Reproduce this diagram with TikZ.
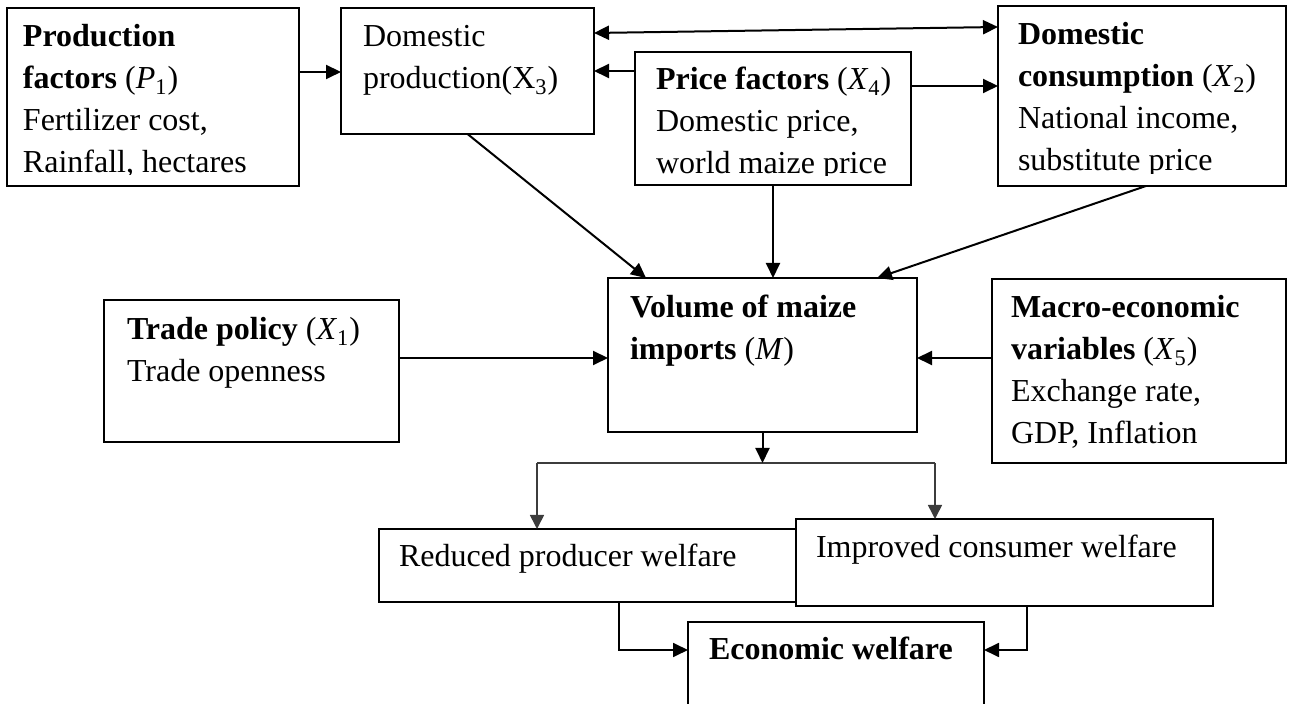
\documentclass[tikz,border=0pt]{standalone}
\usepackage{fontspec}
\setmainfont{Liberation Serif}
\usetikzlibrary{arrows.meta,calc}
\definecolor{branchgray}{HTML}{3C3C3C}
\tikzset{
  mybox/.style={draw=black, line width=0.6pt, fill=white, inner sep=0pt, outer sep=0pt, anchor=north west},
  mytxt/.style={inner sep=0pt, outer sep=0pt, anchor=base west, font=\fontsize{16pt}{21pt}\selectfont},
  myarr/.style={draw=black, line width=1pt, -{Triangle[length=7.5pt,width=7pt]}},
  mydbl/.style={draw=black, line width=1pt, {Triangle[length=7.5pt,width=7pt]}-{Triangle[length=7.5pt,width=7pt]}},
  gline/.style={draw=branchgray, line width=0.8pt},
  garr/.style={draw=branchgray, line width=0.8pt, -{Triangle[length=7pt,width=7pt]}, fill=branchgray},
}
\newcommand{\lines}[2]{\parbox[t]{#1}{\raggedright #2}}
\begin{document}
\begin{tikzpicture}[x=0.5pt,y=-0.5pt]
\clip (0,0) rectangle (1297,704);
\useasboundingbox (0,0) rectangle (1297,704);

% boxes
\node[mybox, minimum width=146pt, minimum height=89pt] (prod) at (7,8) {};
\node[mybox, minimum width=126.5pt, minimum height=63pt] (dom) at (341,8) {};
\node[mybox, minimum width=138pt, minimum height=66.5pt] (price) at (635,52) {};
\node[mybox, minimum width=144pt, minimum height=90pt] (cons) at (998,6) {};
\node[mybox, minimum width=147.5pt, minimum height=71pt] (trade) at (104,300) {};
\node[mybox, minimum width=154.5pt, minimum height=77pt] (vol) at (608,278) {};
\node[mybox, minimum width=147pt, minimum height=92pt] (macro) at (992,279) {};
\node[mybox, minimum width=208.5pt, minimum height=36.5pt] (red) at (379,529) {};
\node[mybox, minimum width=208.5pt, minimum height=43.5pt] (imp) at (796,519) {};
\node[mybox, minimum width=148pt, minimum height=50pt] (eco) at (688,622) {};

% texts
\begin{scope}
\clip (7,8) rectangle (299,175);
\node[mytxt] (prodT) at (23,47) {\lines{140pt}{\textbf{Production}\\\textbf{factors} (\textit{P}\textsubscript{1})\\Fertilizer cost,\\Rainfall, hectares}};
\end{scope}
\node[mytxt] (domT) at (363,47) {\lines{120pt}{Domestic\\production(X\textsubscript{3})}};
\begin{scope}
\clip (635,52) rectangle (911,176);
\node[mytxt] (priceT) at (656,90) {\lines{130pt}{\textbf{Price factors} (\textit{X}\textsubscript{4})\\Domestic price,\\world maize price}};
\end{scope}
\begin{scope}
\clip (998,6) rectangle (1286,174);
\node[mytxt] (consT) at (1018,45) {\lines{134pt}{\textbf{Domestic}\\\textbf{consumption} (\textit{X}\textsubscript{2})\\National income,\\substitute price}};
\end{scope}
\node[mytxt] (tradeT) at (127,340) {\lines{136pt}{\textbf{Trade policy} (\textit{X}\textsubscript{1})\\Trade openness}};
\node[mytxt] (volT) at (630,318) {\lines{144pt}{\textbf{Volume of maize}\\\textbf{imports} (\textit{M})}};
\node[mytxt] (macroT) at (1011,318) {\lines{138pt}{\textbf{Macro-economic}\\\textbf{variables} (\textit{X}\textsubscript{5})\\Exchange rate,\\GDP, Inflation}};
\node[mytxt] (redT) at (399,567) {Reduced producer welfare};
\node[mytxt] (impT) at (816,558) {Improved consumer welfare};
\node[mytxt] (ecoT) at (709,660) {\textbf{Economic welfare}};

% connectors, top row
\draw[myarr] (prod.east |- 0,72) -- (dom.west |- 0,72);
\draw[mydbl] (dom.east |- 0,33) -- (cons.west |- 0,27);
\draw[myarr] (price.west |- 0,71) -- (dom.east |- 0,71);
\draw[myarr] (price.east |- 0,86) -- (cons.west |- 0,86);
% into volume
\draw[myarr] (dom.south) -- (646,0 |- vol.north);
\draw[myarr] (price.south) -- (price.south |- vol.north);
\draw[myarr] (1146,0 |- cons.south) -- (877,0 |- vol.north);
\draw[myarr] (trade.east |- 0,358) -- (vol.west |- 0,358);
\draw[myarr] (macro.west |- 0,358) -- (vol.east |- 0,358);
% branch
\coordinate (bc) at (763,463);
\coordinate (bl) at (537,463);
\coordinate (br) at (935,463);
\draw[gline] (bl) -- (br);
\draw[myarr] (vol.south) -- (vol.south |- bc);
\draw[garr] (bl) -- (bl |- red.north);
\draw[garr] (br) -- (br |- imp.north);
% to economic welfare
\draw[myarr, line width=0.9pt] (619,0 |- red.south) |- (eco.west |- 0,650);
\draw[myarr, line width=0.9pt] (1027,0 |- imp.south) |- (eco.east |- 0,650);
\end{tikzpicture}
\end{document}
